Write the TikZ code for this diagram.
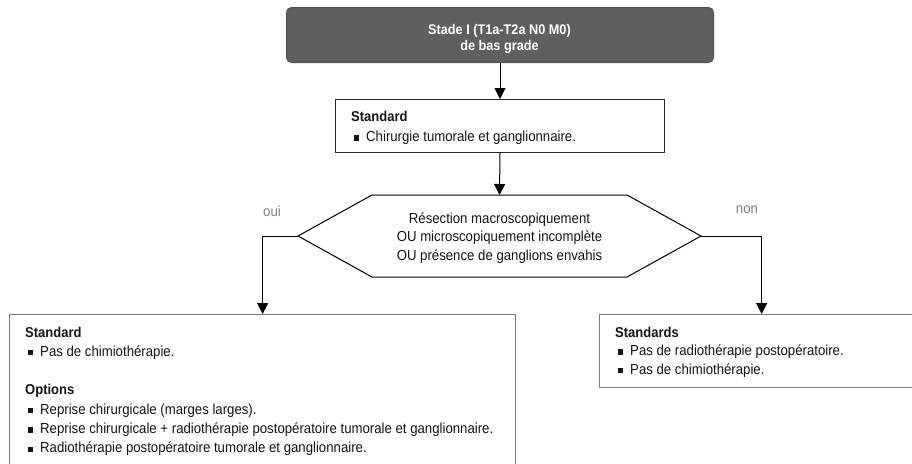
\documentclass[tikz,border=0pt]{standalone}
\usepackage{graphicx}
\usepackage{fontspec}
\setmainfont{Liberation Sans}
\usetikzlibrary{arrows.meta}
\newcommand{\blt}{\makebox[15pt][l]{\hspace{2.5pt}\rule[0.8pt]{5pt}{4.8pt}}}
\newcommand{\vst}[1]{\scalebox{1}[1.1]{#1}}
\definecolor{topfill}{HTML}{5F5F5F}
\definecolor{txt}{HTML}{141414}
\definecolor{edge}{HTML}{7A7A7A}
\begin{document}
\begin{tikzpicture}[x=1pt,y=-1pt,
  font=\fontsize{13.2}{16}\selectfont,
  arr/.style={draw=black, line width=1pt, -{Triangle[width=11pt,length=11pt]}},
  topbox/.style={draw=topfill!85!black, fill=topfill, rounded corners=5pt, line width=1pt, anchor=north west, inner sep=0pt},
  stdbox/.style={draw=black!85, line width=1pt, anchor=north west, inner sep=0pt},
  outbox/.style={draw=edge, line width=1.3pt, anchor=north west, inner sep=0pt},
  hexline/.style={draw=black, line width=1pt},
  toptext/.style={anchor=base, inner sep=0pt, text=white, font=\fontsize{12.7}{16}\selectfont\bfseries},
  ln/.style={anchor=base west, inner sep=0pt, text=txt},
  hd/.style={anchor=base west, inner sep=0pt, text=txt, font=\fontsize{13}{16}\selectfont\bfseries},
  ctr/.style={anchor=base, inner sep=0pt, text=txt},
  lab/.style={anchor=base, inner sep=0pt, text=black!50}]
\useasboundingbox (0,0) rectangle (912,463);
\clip (0,0) rectangle (912,463);

% top box
\node[topbox, minimum width=427pt, minimum height=55pt] (top) at (286,7) {};
\node[toptext] (top1) at (499.5,34) {\vst{Stade I (T1a-T2a N0 M0)}};
\node[toptext] (top2) at (499.5,50.5) {\vst{de bas grade}};

% standard box
\node[stdbox, minimum width=329pt, minimum height=53pt] (std) at (335,99) {};
\node[hd] (std1) at (351,121) {\vst{Standard}};
\node[ln] (std2) at (351,141.5) {\vst{\blt Chirurgie tumorale et ganglionnaire.}};

% hexagon
\coordinate (hL) at (298,236);
\coordinate (hTL) at (372,195);
\coordinate (hTR) at (627,195);
\coordinate (hR) at (701,236);
\coordinate (hBR) at (627,277);
\coordinate (hBL) at (372,277);
\coordinate (hT) at (499.5,195);
\draw[hexline] (hL) -- (hTL) -- (hTR) -- (hR) -- (hBR) -- (hBL) -- cycle;
\node[ctr] (q1) at (499.5,223) {\vst{Résection macroscopiquement}};
\node[ctr] (q2) at (499.5,241.7) {\vst{OU microscopiquement incomplète}};
\node[ctr] (q3) at (499.5,260.3) {\vst{OU présence de ganglions envahis}};

% outcome boxes
\node[outbox, minimum width=506pt, minimum height=200pt] (lbox) at (9,314) {};
\node[outbox, minimum width=324pt, minimum height=73pt] (rbox) at (599,314) {};

\node[hd] (l1) at (25,337) {\vst{Standard}};
\node[ln] (l2) at (25,356.2) {\vst{\blt Pas de chimiothérapie.}};
\node[hd] (l3) at (25,394.8) {\vst{Options}};
\node[ln] (l4) at (25,414.2) {\vst{\blt Reprise chirurgicale (marges larges).}};
\node[ln] (l5) at (25,433.4) {\vst{\blt Reprise chirurgicale + radiothérapie postopératoire tumorale et ganglionnaire.}};
\node[ln] (l6) at (25,452.7) {\vst{\blt Radiothérapie postopératoire tumorale et ganglionnaire.}};

\node[hd] (r1) at (615,337) {\vst{Standards}};
\node[ln] (r2) at (615,355.6) {\vst{\blt Pas de radiothérapie postopératoire.}};
\node[ln] (r3) at (615,374.2) {\vst{\blt Pas de chimiothérapie.}};

% labels
\node[lab] (oui) at (272,216) {\vst{oui}};
\node[lab] (non) at (747,213.5) {\vst{non}};

% connectors
\draw[arr] (top.south) -- (std.north);
\draw[arr] (std.south) -- (hT);
\draw[arr] (hL) -| (lbox.north);
\draw[arr] (hR) -| (rbox.north);
\end{tikzpicture}
\end{document}
